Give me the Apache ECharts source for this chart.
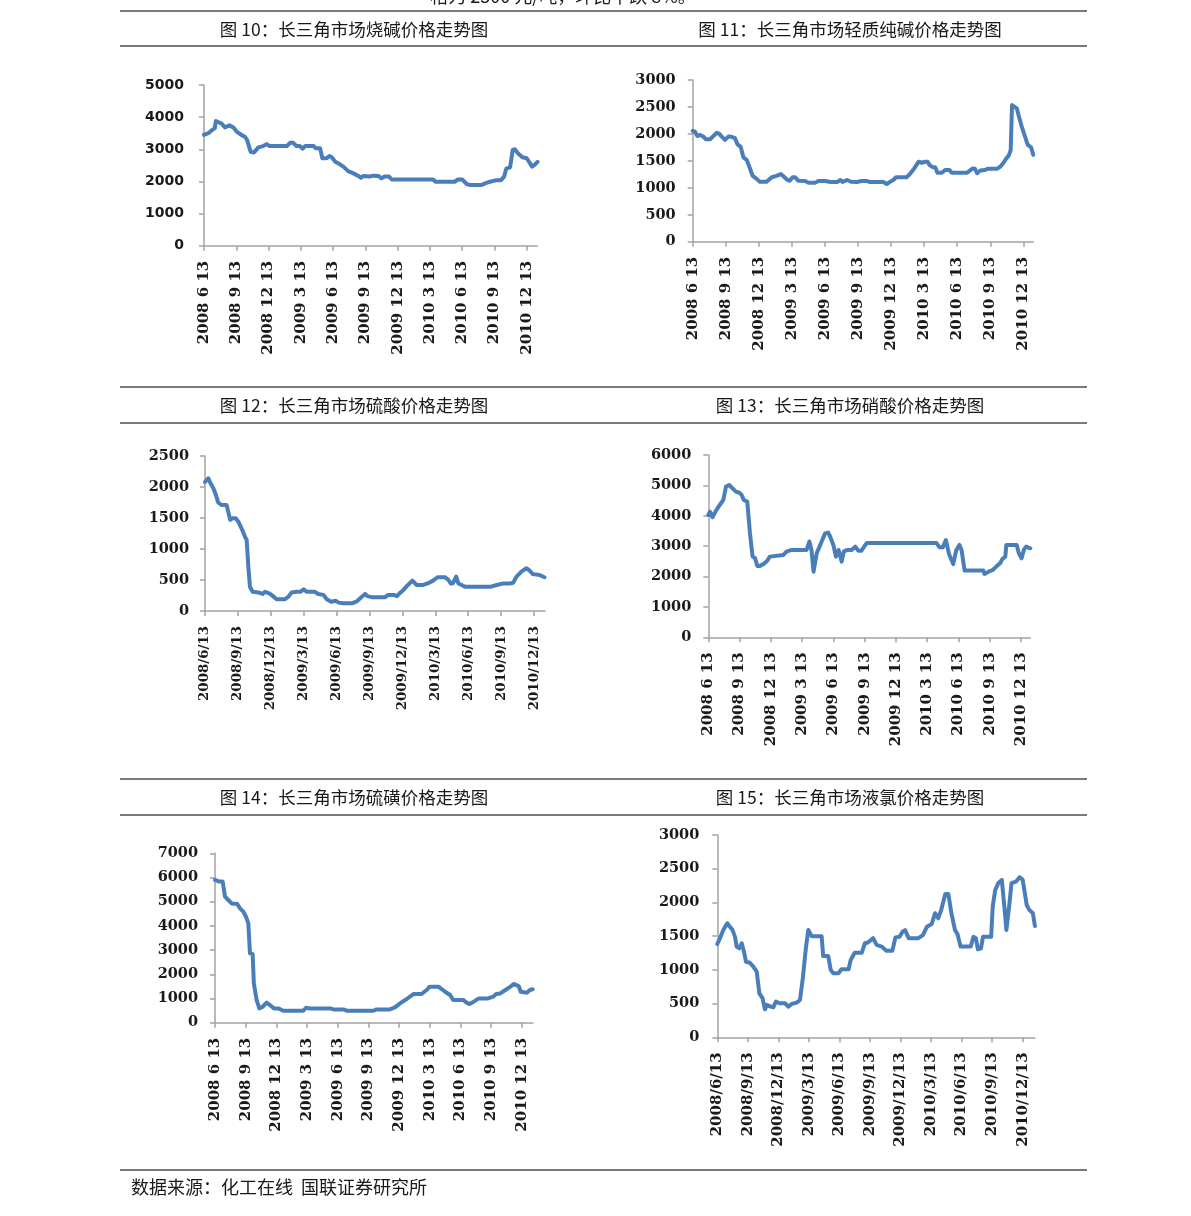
<!DOCTYPE html>
<html>
<head>
<meta charset="utf-8">
<script src="https://cdn.jsdelivr.net/npm/echarts@6/dist/echarts.min.js"></script>
<style>
html,body{margin:0;padding:0;background:#fff;}
#c{width:1191px;height:1216px;}
</style>
</head>
<body>
<div id="c"></div>
<script>
// ---------- DATA ----------
// x = months since 2008-06-13
const tickLabelsSpace = ['2008 6 13','2008 9 13','2008 12 13','2009 3 13','2009 6 13','2009 9 13','2009 12 13','2010 3 13','2010 6 13','2010 9 13','2010 12 13'];
const tickLabelsSlash = ['2008/6/13','2008/9/13','2008/12/13','2009/3/13','2009/6/13','2009/9/13','2009/12/13','2010/3/13','2010/6/13','2010/9/13','2010/12/13'];
const tickMonths = [0,3,6,9,12,15,18,21,24,27,30];

const titles = ['图 10：长三角市场烧碱价格走势图','图 11：长三角市场轻质纯碱价格走势图','图 12：长三角市场硫酸价格走势图','图 13：长三角市场硝酸价格走势图','图 14：长三角市场硫磺价格走势图','图 15：长三角市场液氯价格走势图'];
const topText = '格为 2300 元/吨，环比下跌 8%。';
const sourceText = '数据来源：化工在线  国联证券研究所';

const causticMonths = [0,0.4,0.75,1.0,1.1,1.24,1.64,1.95,2.36,2.73,3.04,3.5,3.8,4.0,4.34,4.65,5.05,5.5,5.83,6.1,7.7,8.0,8.3,8.6,8.9,9.17,9.4,10.2,10.4,10.8,11.0,11.4,11.65,11.87,12.2,12.6,12.95,13.4,13.9,14.35,14.6,14.8,15.4,15.7,16.2,16.5,16.8,17.2,17.45,21.3,21.5,23.3,23.6,24.0,24.4,24.7,25.8,26.3,26.6,27.2,27.6,27.9,28.1,28.45,28.7,28.9,29.2,29.6,30.0,30.5,30.8,31.0];
const causticPrices = [3450,3500,3600,3650,3880,3930,3800,3680,3750,3680,3550,3440,3390,3290,2920,2900,3060,3100,3160,3100,3100,3200,3200,3100,3100,3020,3100,3100,3030,3030,2720,2720,2790,2750,2610,2540,2460,2320,2250,2170,2115,2170,2150,2180,2170,2095,2150,2150,2060,2060,1990,1990,2060,2060,1920,1890,1890,1960,1990,2040,2040,2150,2400,2440,2980,3000,2870,2750,2720,2460,2540,2610];

const sodaMonths = [0,0.2,0.42,0.67,0.97,1.2,1.57,1.87,2.18,2.42,2.63,2.93,3.24,3.45,3.84,4.05,4.35,4.6,4.9,5.14,5.44,5.75,6.1,6.7,7.17,7.6,8.0,8.2,8.6,8.8,9.07,9.3,9.6,10.2,10.5,11.1,11.4,12.0,12.5,13.1,13.4,13.6,14.0,14.4,14.9,15.3,15.8,16.1,17.3,17.6,17.9,18.2,18.45,19.4,19.7,20.1,20.5,20.8,21.1,21.3,21.5,21.8,22.0,22.2,22.6,22.9,23.3,23.5,24.9,25.2,25.4,25.6,25.8,26.1,26.5,26.8,27.6,27.9,28.2,28.4,28.7,28.85,28.97,29.15,29.4,29.6,29.85,30.15,30.4,30.7,30.9];
const sodaPrices = [2054,2040,1960,1980,1950,1900,1900,1960,2020,2000,1950,1890,1950,1950,1920,1810,1760,1565,1515,1390,1220,1175,1110,1110,1195,1220,1255,1220,1145,1130,1195,1195,1130,1125,1095,1095,1125,1125,1107,1107,1145,1110,1145,1110,1107,1125,1125,1107,1107,1070,1110,1145,1195,1195,1255,1360,1485,1465,1485,1485,1420,1380,1380,1280,1280,1330,1330,1280,1280,1330,1360,1355,1270,1320,1330,1355,1355,1390,1465,1530,1610,1700,2535,2535,2475,2320,2135,1950,1795,1750,1610];

const sulfuricMonths = [0,0.3,0.5,0.76,1.0,1.2,1.5,1.97,2.1,2.3,2.5,2.8,3.04,3.34,3.64,3.8,3.95,4.1,4.34,4.86,5.25,5.47,5.86,6.2,6.53,7.3,7.6,7.9,8.35,8.7,9.0,9.26,10.0,10.3,10.8,11.1,11.5,11.9,12.2,12.6,13.4,13.8,14.3,14.6,14.8,15.3,16.4,16.7,17.2,17.5,17.8,18.1,18.4,18.9,19.1,19.3,19.9,20.3,20.8,21.2,21.9,22.2,22.4,22.6,22.9,23.1,23.4,23.7,26.0,26.6,27.2,27.8,28.1,28.4,28.85,29.3,29.55,29.9,30.5,30.95];
const sulfuricPrices = [2080,2140,2060,1980,1870,1750,1710,1710,1680,1470,1495,1495,1440,1330,1200,1145,715,390,310,300,275,310,285,240,190,190,230,300,310,310,350,310,310,275,260,190,150,165,135,125,125,150,230,275,240,220,220,260,260,240,295,340,400,490,455,420,420,445,490,545,545,500,445,445,555,445,420,390,390,420,445,445,455,555,635,690,660,595,580,545];

const nitricMonths = [0,0.16,0.4,0.74,1.1,1.44,1.7,2.0,2.33,2.65,2.97,3.2,3.4,3.74,4.0,4.25,4.5,4.7,4.96,5.3,5.66,5.9,6.07,7.2,7.5,8.0,9.43,9.7,9.9,10.1,10.4,10.7,11.2,11.5,11.7,12.0,12.25,12.5,12.6,12.8,13.0,13.3,13.75,14.1,14.4,14.7,15.0,15.2,21.9,22.2,22.5,22.8,23.1,23.5,23.8,24.1,24.3,24.6,26.4,26.5,26.9,27.3,27.7,28.0,28.2,28.5,28.6,29.6,29.8,30.06,30.3,30.5,30.9];
const nitricPrices = [4025,4135,3950,4170,4355,4520,4960,5013,4900,4795,4760,4685,4520,4465,3420,2655,2600,2350,2350,2410,2520,2655,2710,2710,2820,2875,2875,3150,2875,2160,2765,3005,3420,3445,3310,3040,2655,2875,2850,2490,2820,2875,2875,2985,2850,2850,3005,3100,3100,2960,2960,3200,2740,2410,2875,3040,2875,2195,2195,2085,2160,2215,2350,2435,2565,2655,3040,3040,2765,2600,2895,2985,2930];

const sulfurMonths = [0,0.42,0.75,0.98,1.3,1.63,2.18,2.45,2.77,3.03,3.26,3.42,3.68,3.8,4.07,4.34,4.66,5.05,5.38,5.77,6.2,6.68,8.64,8.9,9.3,11.25,11.6,12.55,12.88,15.5,15.8,17.1,17.6,18.1,18.75,19.4,20.2,20.7,21.0,21.85,22.5,23.0,23.3,24.3,24.6,24.9,25.3,25.8,26.7,27.2,27.5,27.9,28.4,28.9,29.2,29.7,29.9,30.5,30.8,31.07];
const sulfurPrices = [5900,5830,5830,5210,5070,4930,4905,4725,4590,4380,4105,2865,2840,1625,937,590,660,827,730,590,590,495,495,620,590,590,550,550,495,495,550,550,635,800,980,1185,1185,1350,1490,1490,1280,1145,937,937,827,770,868,1005,1005,1075,1185,1210,1350,1490,1600,1515,1280,1240,1350,1380];

const chlorineMonths = [0,0.26,0.59,0.98,1.24,1.5,1.74,1.9,2.16,2.4,2.62,2.82,3.2,3.54,3.87,4.13,4.45,4.68,4.9,5.24,5.5,5.76,6.1,6.65,6.98,7.3,7.8,8.12,8.4,8.7,8.94,9.27,10.25,10.4,10.9,11.14,11.4,11.9,12.2,12.9,13.1,13.5,14.2,14.5,14.8,15.3,15.65,16.15,16.6,17.2,17.5,17.9,18.2,18.45,18.8,19.75,20.2,20.6,21.06,21.4,21.7,22.0,22.4,22.7,23.0,23.35,23.6,23.9,24.9,25.16,25.4,25.6,25.9,26.1,26.9,27.06,27.3,27.6,27.95,28.2,28.4,28.7,28.9,29.35,29.7,30.0,30.4,30.65,31.0,31.2];
const chlorinePrices = [1384,1468,1590,1690,1640,1590,1490,1345,1320,1395,1270,1120,1105,1048,975,652,578,415,480,455,445,530,505,505,455,495,515,553,875,1320,1590,1500,1500,1205,1205,1000,950,950,1010,1010,1145,1255,1255,1395,1405,1470,1370,1345,1285,1285,1482,1490,1565,1590,1470,1470,1515,1640,1680,1840,1765,1890,2125,2125,1840,1590,1530,1345,1345,1490,1470,1305,1320,1490,1490,1945,2185,2285,2335,1935,1590,1985,2285,2310,2375,2335,1960,1890,1840,1650];

// ---------- LAYOUT ----------
const panels = [
  {m: causticMonths, v: causticPrices, ticks: tickLabelsSpace, left:204, top:85, width:333.5, height:160.7, xmax:31, ymax:5000, yint:1000, yFont:'DejaVu Sans', yMargin:20, ySize:14, xSize:15},
  {m: sodaMonths, v: sodaPrices, ticks: tickLabelsSpace, left:692.7, top:80, width:340.6, height:161.7, xmax:30.9, ymax:3000, yint:500, yFont:'DejaVu Serif', yMargin:17, ySize:14.5, xSize:15},
  {m: sulfuricMonths, v: sulfuricPrices, ticks: tickLabelsSlash, left:205, top:456, width:340, height:155, xmax:31, ymax:2500, yint:500, yFont:'DejaVu Serif', yMargin:16, ySize:14.5, xSize:13.4},
  {m: nitricMonths, v: nitricPrices, ticks: tickLabelsSpace, left:708.3, top:455, width:322, height:182.3, xmax:30.9, ymax:6000, yint:1000, yFont:'DejaVu Serif', yMargin:17, ySize:14.5, xSize:15},
  {m: sulfurMonths, v: sulfurPrices, ticks: tickLabelsSpace, left:215, top:853.3, width:318, height:169.4, xmax:31.1, ymax:7000, yint:1000, yFont:'DejaVu Serif', yMargin:17, ySize:14.5, xSize:15},
  {m: chlorineMonths, v: chlorinePrices, ticks: tickLabelsSlash, left:717.3, top:835, width:317.6, height:202.3, xmax:31.2, ymax:3000, yint:500, yFont:'DejaVu Serif', yMargin:18, ySize:14.5, xSize:15}
];

const AXIS_COLOR = '#a3a3a3';
const LINE_COLOR = '#4a7ebb';
const TEXT_COLOR = '#1a1a1a';

const grid = [], xAxis = [], yAxis = [], series = [];
panels.forEach((p, i) => {
  grid.push({left:p.left, top:p.top, width:p.width, height:p.height, containLabel:false, outerBoundsMode:'none', show:false});
  xAxis.push({
    type:'value', gridIndex:i, min:0, max:p.xmax, interval:3,
    axisLine:{show:true, onZero:false, lineStyle:{color:AXIS_COLOR, width:1.5}},
    axisTick:{show:true, length:5, lineStyle:{color:AXIS_COLOR, width:1.5}, customValues: tickMonths},
    splitLine:{show:false},
    axisLabel:{show:true, rotate:90, margin:15, color:TEXT_COLOR, fontFamily:'DejaVu Serif', fontWeight:'bold', fontSize:p.xSize,
      customValues: tickMonths,
      formatter: (val) => { const k = Math.round(val/3); return (Math.abs(val - k*3) < 1e-6 && p.ticks[k]) ? p.ticks[k] : ''; }}
  });
  yAxis.push({
    type:'value', gridIndex:i, min:0, max:p.ymax, interval:p.yint,
    axisLine:{show:true, lineStyle:{color:AXIS_COLOR, width:1.5}},
    axisTick:{show:true, length:5, lineStyle:{color:AXIS_COLOR, width:1.5}},
    splitLine:{show:false},
    axisLabel:{show:true, margin:p.yMargin, color:TEXT_COLOR, fontFamily:p.yFont, fontWeight:'bold', fontSize:p.ySize,
      formatter:(val) => String(val)}
  });
  const data = [];
  for (let k = 0; k < Math.min(p.m.length, p.v.length); k++) data.push([p.m[k], p.v[k]]);
  series.push({type:'line', xAxisIndex:i, yAxisIndex:i, data, showSymbol:false, symbol:'none', smooth:false,
    lineStyle:{color:LINE_COLOR, width:4, cap:'round', join:'round'}, silent:true, animation:false});
});

// decorative rules & texts
const ruleYs = [11, 46, 387, 423, 779, 815, 1170];
const graphic = [];
ruleYs.forEach(y => graphic.push({type:'line', silent:true, shape:{x1:120, y1:y, x2:1087, y2:y}, style:{stroke:'#4d4d4d', lineWidth:1.5}}));
const titleCenters = [[354,29],[850,29],[354,405],[850,405],[354,797],[850,797]];
titles.forEach((t, i) => graphic.push({type:'text', silent:true, x:titleCenters[i][0], y:titleCenters[i][1],
  style:{text:t, fill:'#1a1a1a', font:'17.5px "Noto Sans CJK SC"', textAlign:'center', textVerticalAlign:'middle'}}));
graphic.push({type:'text', silent:true, x:563, y:-4, style:{text:topText, fill:'#1a1a1a', font:'18px "Noto Sans CJK SC"', textAlign:'center', textVerticalAlign:'middle'}});
graphic.push({type:'text', silent:true, x:131, y:1187, style:{text:sourceText, fill:'#1a1a1a', font:'18px "Noto Sans CJK SC"', textAlign:'left', textVerticalAlign:'middle'}});

const chart = echarts.init(document.getElementById('c'), null, {renderer:'canvas'});
chart.setOption({
  backgroundColor:'#ffffff',
  animation:false,
  grid, xAxis, yAxis, series, graphic
});
</script>
</body>
</html>
